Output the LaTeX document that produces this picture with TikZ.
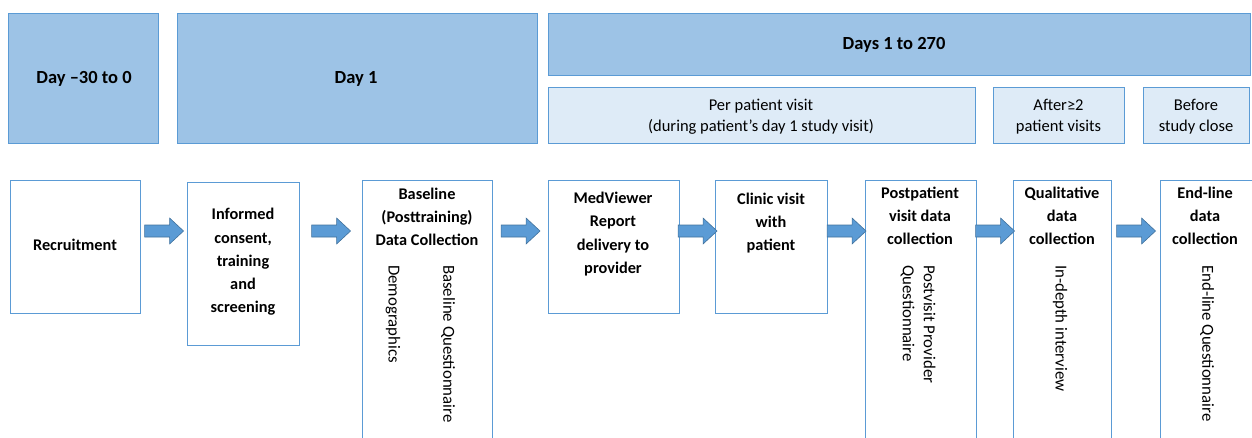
\documentclass[tikz,border=0pt]{standalone}
\usepackage{fontspec}
\setmainfont{Carlito}
\usetikzlibrary{calc}
\definecolor{headfill}{HTML}{9DC3E6}
\definecolor{subfill}{HTML}{DEEBF7}
\definecolor{boxline}{HTML}{5B9BD5}
\definecolor{arrfill}{HTML}{5B9BD5}
\definecolor{arrline}{HTML}{41719C}
\tikzset{
  hdr/.style={draw=boxline, fill=headfill, line width=1.1pt, inner sep=0pt, anchor=north west},
  subhdr/.style={draw=boxline, fill=subfill, line width=1.1pt, inner sep=0pt, anchor=north west},
  stepbox/.style={draw=boxline, fill=white, line width=1.1pt, inner sep=0pt, anchor=north west},
  btxt/.style={font=\fontsize{16.3}{23.2}\selectfont\bfseries, align=center, inner sep=0pt},
  htxt/.style={font=\fontsize{18.5}{23}\selectfont\bfseries, align=center, inner sep=0pt},
  rtxt/.style={font=\fontsize{16.5}{21}\selectfont, align=center, inner sep=0pt},
  vtxt/.style={font=\fontsize{16.8}{21}\selectfont, align=left, inner sep=0pt, rotate=-90, anchor=west},
  barrow/.style={draw=arrline, fill=arrfill, line width=0.6pt, line join=miter},
}
\newcommand{\blockarrow}[2]{%
  \path[barrow] let \p1=(#1.east), \p2=(#2.west), \n1={(\x1+\x2)/2} in
    (\n1-19.5pt,-225pt) -- (\n1+5.5pt,-225pt) -- (\n1+5.5pt,-218pt) -- (\n1+19.5pt,-231pt)
    -- (\n1+5.5pt,-244pt) -- (\n1+5.5pt,-237pt) -- (\n1-19.5pt,-237pt) -- cycle;}
\begin{document}
\begin{tikzpicture}[x=1pt,y=1pt]
\useasboundingbox (0,0) rectangle (1252,-437);
\clip (0,0) rectangle (1252,-437);
% headers
\node[hdr, minimum width=150, minimum height=130] (h0) at (8,-13) {};
\node[hdr, minimum width=360, minimum height=130] (h1) at (177,-13) {};
\node[hdr, minimum width=702, minimum height=62] (h2) at (548,-13) {};
\node[subhdr, minimum width=427, minimum height=56] (s1) at (548,-87) {};
\node[subhdr, minimum width=131, minimum height=56] (s2) at (993,-87) {};
\node[subhdr, minimum width=106, minimum height=56] (s3) at (1143,-87) {};
\node[htxt] (h0t) at (84,-79) {Day –30 to 0};
\node[htxt] (h1t) at (356,-79) {Day 1};
\node[htxt] (h2t) at (894,-45) {Days 1 to 270};
\node[rtxt] (s1t) at (761,-117) {Per patient visit\\(during patient’s day 1 study visit)};
\node[rtxt] (s2t) at (1058.5,-117) {After≥2\\patient visits};
\node[rtxt] (s3t) at (1196,-117) {Before\\study close};
% step boxes
\node[stepbox, minimum width=130, minimum height=133] (b1) at (10,-180) {};
\node[stepbox, minimum width=112, minimum height=163] (b2) at (187,-182) {};
\node[stepbox, minimum width=130, minimum height=280] (b3) at (362,-180) {};
\node[stepbox, minimum width=131, minimum height=133] (b4) at (548,-180) {};
\node[stepbox, minimum width=112, minimum height=133] (b5) at (715,-180) {};
\node[stepbox, minimum width=111, minimum height=280] (b6) at (865,-180) {};
\node[stepbox, minimum width=98, minimum height=280] (b7) at (1013,-180) {};
\node[stepbox, minimum width=100, minimum height=280] (b8) at (1160,-180) {};
\node[btxt] (b1t) at (75,-245) {Recruitment};
\node[btxt] (b2t) at (243,-262) {Informed\\consent,\\training\\and\\screening};
\node[btxt] (b3t) at (427,-217) {Baseline\\(Posttraining)\\Data Collection};
\node[btxt] (b4t) at (613,-234) {MedViewer\\Report\\delivery to\\provider};
\node[btxt] (b5t) at (771,-223) {Clinic visit\\with\\patient};
\node[btxt] (b6t) at (920,-216) {Postpatient\\visit data\\collection};
\node[btxt] (b7t) at (1062,-216) {Qualitative\\data\\collection};
\node[btxt] (b8t) at (1205,-216) {End-line\\data\\collection};
% rotated texts
\node[vtxt] (v1) at (393,-265) {Demographics};
\node[vtxt] (v2) at (448,-265) {Baseline Questionnaire};
\node[vtxt] (v3) at (918,-265) {Postvisit Provider\\Questionnaire};
\node[vtxt] (v4) at (1060,-265) {In-depth interview};
\node[vtxt] (v5) at (1207,-265) {End-line Questionnaire};
% arrows
\blockarrow{b1}{b2}
\blockarrow{b2}{b3}
\blockarrow{b3}{b4}
\blockarrow{b4}{b5}
\blockarrow{b5}{b6}
\blockarrow{b6}{b7}
\blockarrow{b7}{b8}
\end{tikzpicture}
\end{document}
